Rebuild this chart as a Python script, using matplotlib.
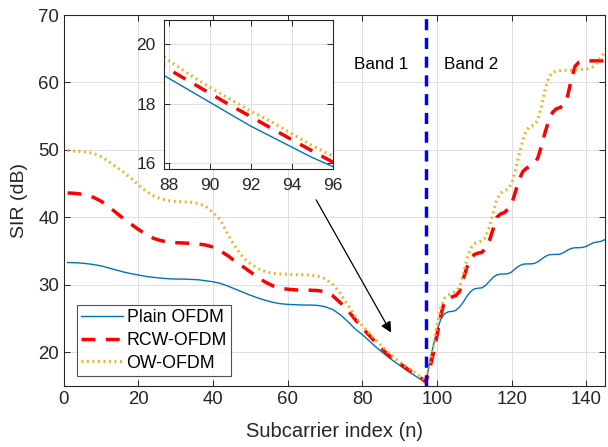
import numpy as np
import matplotlib.pyplot as plt

plt.rcParams['font.family'] = ['Liberation Sans', 'DejaVu Sans']

# subcarrier index grid: every 2 in the flat part, every 1 near the band edge
n = [1] + list(range(2, 80, 2)) + list(range(80, 146))

plain = [33.3, 33.3, 33.25, 33.15, 33.0, 32.8, 32.5, 32.2, 31.9, 31.65,
         31.45, 31.25, 31.1, 31.0, 30.9, 30.85, 30.85, 30.8, 30.75, 30.6,
         30.45, 30.2, 29.8, 29.35, 28.9, 28.45, 28.05, 27.7, 27.4, 27.2,
         27.1, 27.05, 27.0, 27.0, 26.95, 26.75, 26.35, 25.6, 24.6, 23.5,
         # 80..97
         22.6, 22.1, 21.6, 21.1, 20.6, 20.15, 19.7, 19.25, 18.85, 18.45,
         18.05, 17.65, 17.25, 16.9, 16.55, 16.2, 15.9, 15.4,
         # 98..145
         18.5, 21.0, 23.2, 24.9, 25.7, 26.0, 26.05, 26.2, 26.7, 27.4,
         28.3, 29.0, 29.4, 29.5, 29.55, 29.9, 30.5, 31.1, 31.45, 31.6,
         31.6, 31.65, 31.9, 32.4, 32.8, 33.05, 33.1, 33.1, 33.15, 33.4,
         33.8, 34.2, 34.45, 34.5, 34.5, 34.55, 34.8, 35.15, 35.4, 35.5,
         35.5, 35.55, 35.7, 36.0, 36.25, 36.35, 36.45, 36.7]

rcw = [43.6, 43.6, 43.5, 43.3, 42.95, 42.4, 41.6, 40.7, 39.8, 39.0,
       38.2, 37.5, 36.9, 36.55, 36.35, 36.25, 36.2, 36.15, 36.05, 35.9,
       35.6, 35.0, 34.3, 33.45, 32.7, 31.9, 31.1, 30.4, 29.85, 29.5,
       29.35, 29.25, 29.2, 29.2, 29.15, 29.0, 28.4, 27.4, 26.3, 24.9,
       # 80..97
       23.6, 23.0, 22.4, 21.8, 21.2, 20.65, 20.1, 19.6, 19.15, 18.75,
       18.35, 17.95, 17.57, 17.18, 16.8, 16.42, 16.05, 15.6,
       # 98..145
       17.5, 19.8, 22.5, 25.5, 27.5, 28.0, 28.2, 28.4, 29.0, 30.8,
       32.6, 33.9, 34.5, 34.7, 34.8, 35.4, 36.5, 38.2, 40.0, 40.5,
       40.7, 41.2, 42.0, 43.8, 45.6, 46.8, 47.3, 47.6, 47.9, 48.8,
       50.6, 52.7, 54.4, 55.6, 56.1, 56.3, 56.6, 58.0, 60.5, 62.4,
       63.0, 63.2, 63.2, 63.2, 63.2, 63.2, 63.2, 63.3]

ow = [49.9, 49.85, 49.8, 49.7, 49.45, 49.0, 48.3, 47.5, 46.7, 45.8,
      44.8, 43.9, 43.2, 42.75, 42.5, 42.35, 42.3, 42.25, 42.05, 41.65,
      40.7, 39.6, 37.4, 35.6, 34.1, 33.1, 32.4, 31.95, 31.7, 31.6,
      31.55, 31.5, 31.5, 31.45, 31.3, 30.9, 30.1, 28.8, 27.1, 25.4,
      # 80..97
      23.9, 23.3, 22.7, 22.15, 21.6, 21.05, 20.5, 19.95, 19.45, 18.98,
      18.55, 18.15, 17.75, 17.4, 17.0, 16.6, 16.25, 15.8,
      # 98..145
      18.2, 20.8, 24.0, 26.6, 28.0, 28.5, 28.75, 29.0, 29.6, 31.5,
      33.8, 35.4, 36.1, 36.35, 36.5, 37.0, 38.5, 40.6, 42.6, 43.6,
      43.9, 44.2, 45.0, 47.0, 49.3, 51.5, 53.0, 53.5, 53.7, 54.4,
      56.5, 59.0, 60.8, 61.5, 61.7, 61.75, 61.8, 61.8, 61.8, 61.85,
      61.9, 61.95, 62.0, 62.1, 62.4, 63.0, 63.9, 64.4]

band_edge = 97
labels = ['Plain OFDM', 'RCW-OFDM', 'OW-OFDM']

c_blue = '#0072BD'
c_org = '#EDB120'
dark = '#262626'


def draw(ax):
    ax.plot(n, plain, color=c_blue, lw=1.0, label=labels[0])
    ax.plot(n, rcw, color='red', lw=2.5, ls=(0, (4, 3)), label=labels[1])
    ax.plot(n, ow, color=c_org, lw=2.2, ls=(0, (0.6, 1.2)), label=labels[2])


def style(ax, fs):
    ax.grid(True, color='#dfdfdf', lw=0.7)
    ax.set_axisbelow(True)
    ax.tick_params(direction='in', top=True, right=True, labelsize=fs,
                   colors=dark, length=4, width=0.7)
    for s in ax.spines.values():
        s.set_color(dark)
        s.set_linewidth(0.8)


fig = plt.figure(figsize=(6.08, 4.47), dpi=100)
ax = fig.add_axes([0.105, 0.1365, 0.89, 0.8299])
draw(ax)
ax.axvline(band_edge, color='blue', lw=2.5, ls=(0, (3.2, 2.2)))
ax.set_xlim(0, 145)
ax.set_ylim(15, 70)
ax.set_xticks(np.arange(0, 141, 20))
ax.set_yticks(np.arange(20, 71, 10))
style(ax, 13.4)
ax.set_xlabel('Subcarrier index (n)', fontsize=14.5, color=dark, labelpad=10)
ax.set_ylabel('SIR (dB)', fontsize=14, color=dark, labelpad=7)

ax.text(77.8, 62.6, 'Band 1', fontsize=12.3, va='center', ha='left')
ax.text(102, 62.6, 'Band 2', fontsize=12.3, va='center', ha='left',
        bbox=dict(fc='white', ec='none', pad=1))

ax.annotate('', xy=(87.7, 22.9), xytext=(67.6, 42.6),
            arrowprops=dict(arrowstyle='-|>', color='black', lw=0.9,
                            mutation_scale=16, shrinkA=0, shrinkB=0))

leg = ax.legend(loc='lower left', bbox_to_anchor=(0.024, 0.027), fontsize=12.8,
                frameon=True, fancybox=False, edgecolor=dark,
                handlelength=2.35, handletextpad=0.2, labelspacing=0.32,
                borderpad=0.25, borderaxespad=0)
leg.get_frame().set_linewidth(0.8)

ins = fig.add_axes([0.270, 0.621, 0.277, 0.334])
draw(ins)
ins.set_xlim(87.77, 96)
ins.set_ylim(15.8, 20.8)
ins.set_xticks(np.arange(88, 97, 2))
ins.set_yticks([16, 18, 20])
style(ins, 12.5)
ins.tick_params(pad=6)

fig.savefig('out.png', dpi=100)
